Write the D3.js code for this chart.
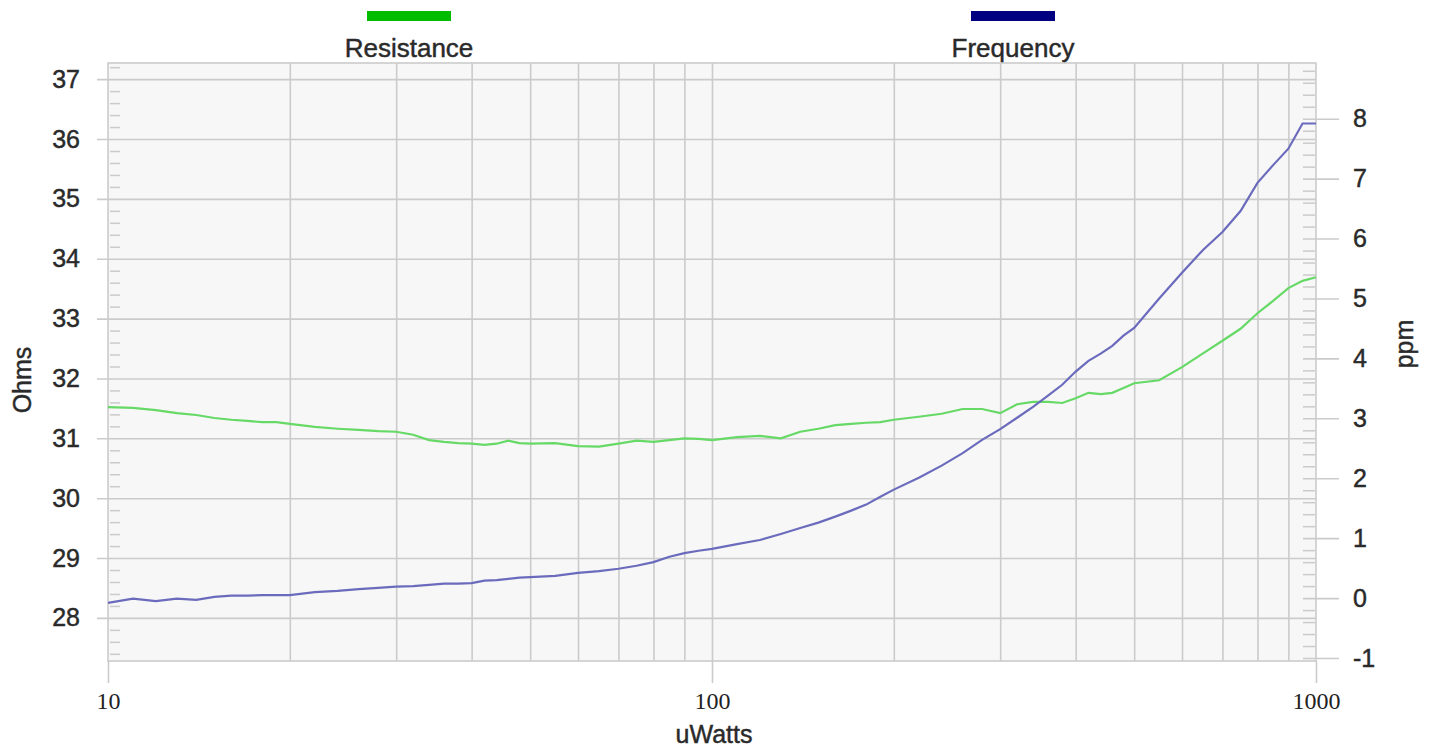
<!DOCTYPE html>
<html>
<head>
<meta charset="utf-8">
<script src="https://cdn.jsdelivr.net/npm/d3@7"></script>
<style>
    body { margin: 0; background: #fff; }
    svg { display: block; font-family: "Liberation Sans", Arial, sans-serif; }
    .lbl { fill: #2a2a2a; stroke: #2a2a2a; stroke-width: 0.45px; }
</style>
</head>
<body>
<div id="chart"></div>
<script>
// power steps (uWatts)
var powerUW = [10, 11, 12, 13, 14, 15, 16, 17, 18, 19, 20, 22, 24, 26, 28, 30, 32, 34, 36, 38,
    40, 42, 44, 46, 48, 50, 55, 60, 65, 70, 75, 80, 85, 90, 95, 100, 110, 120, 130, 140,
    150, 160, 170, 180, 190, 200, 220, 240, 260, 280, 300, 320, 340, 360, 380, 400, 420, 440, 460, 480,
    500, 550, 600, 650, 700, 750, 800, 850, 900, 950, 1000];

// left axis series
var resistanceOhms = [31.52, 31.51, 31.47, 31.42, 31.39, 31.34, 31.31, 31.29, 31.27, 31.27, 31.24, 31.19, 31.16, 31.14, 31.12, 31.11, 31.06, 30.97, 30.94, 30.92,
    30.91, 30.89, 30.91, 30.96, 30.92, 30.91, 30.92, 30.87, 30.86, 30.91, 30.96, 30.94, 30.97, 31.0, 30.99, 30.97, 31.02, 31.04, 31.0, 31.11,
    31.16, 31.22, 31.24, 31.26, 31.27, 31.31, 31.36, 31.41, 31.49, 31.49, 31.42, 31.57, 31.61, 31.61, 31.59, 31.67, 31.76, 31.74, 31.76, 31.84,
    31.92, 31.97, 32.19, 32.42, 32.63, 32.83, 33.09, 33.3, 33.51, 33.63, 33.69];

// right axis series
var frequencyPpm = [-0.08, -0.01, -0.05, -0.01, -0.03, 0.02, 0.04, 0.04, 0.05, 0.05, 0.05, 0.1, 0.12, 0.15, 0.17, 0.19, 0.2, 0.22, 0.24, 0.24,
    0.25, 0.29, 0.3, 0.32, 0.34, 0.35, 0.37, 0.42, 0.45, 0.49, 0.54, 0.6, 0.69, 0.75, 0.79, 0.82, 0.9, 0.97, 1.07, 1.17,
    1.26, 1.36, 1.46, 1.56, 1.69, 1.81, 2.01, 2.21, 2.42, 2.64, 2.82, 3.01, 3.19, 3.38, 3.56, 3.78, 3.96, 4.08, 4.21, 4.38,
    4.51, 5.0, 5.43, 5.81, 6.11, 6.46, 6.93, 7.23, 7.5, 7.92, 7.92];

var ohmTicks = [28, 29, 30, 31, 32, 33, 34, 35, 36, 37];
var ppmTicks = [-1, 0, 1, 2, 3, 4, 5, 6, 7, 8];
var powerTicks = [10, 100, 1000];
var powerGrid = [20, 30, 40, 50, 60, 70, 80, 90, 100, 200, 300, 400, 500, 600, 700, 800, 900];

var seriesNames = ["Resistance", "Frequency"];
var legendColors = ["#00bb00", "#000080"];
var lineColors = ["#66d966", "#6b6bbd"];

var margin = { top: 63, right: 119, bottom: 87, left: 108 },
    width = 1435 - margin.left - margin.right,
    height = 748 - margin.top - margin.bottom;

var svg = d3.select("#chart").append("svg")
    .attr("width", 1435)
    .attr("height", 748);

var g = svg.append("g")
    .attr("transform", "translate(" + margin.left + "," + margin.top + ")");

var x = d3.scaleLog().domain([10, 1000]).range([0, width]);
var yL = d3.scaleLinear().domain([27.28, 37.27]).range([height, 0]);
var yR = d3.scaleLinear().domain([-1.05, 8.93]).range([height, 0]);

// plot background
g.append("rect")
    .attr("width", width)
    .attr("height", height)
    .attr("fill", "#f7f7f7");

var gridColor = "#cbcbcb";

// horizontal grid from the left axis, with outside major ticks
var leftAxis = g.append("g")
    .call(d3.axisLeft(yL).tickValues(ohmTicks).tickSize(11).tickPadding(17));
leftAxis.select(".domain").remove();
leftAxis.selectAll("line").attr("stroke", gridColor).attr("stroke-width", 1.6)
    .attr("x1", -11).attr("x2", width);
leftAxis.selectAll("text")
    .attr("class", "lbl")
    .style("font-size", "25px");

// vertical grid
var xGrid = g.append("g")
    .call(d3.axisBottom(x).tickValues(powerGrid).tickSize(height).tickFormat(""));
xGrid.select(".domain").remove();
xGrid.selectAll("line").attr("stroke", gridColor).attr("stroke-width", 1.6);

// minor ticks left
var minorL = d3.range(27.4, 37.25, 0.2).filter(function(v) {
    return Math.abs(v - Math.round(v)) > 0.05;
});
var leftMinor = g.append("g")
    .attr("transform", "translate(12,0)")
    .call(d3.axisLeft(yL).tickValues(minorL).tickSize(10).tickFormat(""));
leftMinor.select(".domain").remove();
leftMinor.selectAll("line").attr("stroke", gridColor).attr("stroke-width", 1.5);

// minor ticks right
var minorR = d3.range(-1, 8.9, 0.2).filter(function(v) {
    return Math.abs(v - Math.round(v)) > 0.05;
});
var rightMinor = g.append("g")
    .attr("transform", "translate(" + (width - 13) + ",0)")
    .call(d3.axisRight(yR).tickValues(minorR).tickSize(12).tickFormat(""));
rightMinor.select(".domain").remove();
rightMinor.selectAll("line").attr("stroke", gridColor).attr("stroke-width", 1.5);

// right major ticks and labels
var rightAxis = g.append("g")
    .attr("transform", "translate(" + (width - 13) + ",0)")
    .call(d3.axisRight(yR).tickValues(ppmTicks).tickSize(36).tickPadding(14)
        .tickFormat(function(d) { return String(d); }));
rightAxis.select(".domain").remove();
rightAxis.selectAll("line").attr("stroke", gridColor).attr("stroke-width", 1.6);
rightAxis.selectAll("text")
    .attr("class", "lbl")
    .style("font-size", "25px");

// plot border
g.append("rect")
    .attr("width", width)
    .attr("height", height)
    .attr("fill", "none")
    .attr("stroke", gridColor)
    .attr("stroke-width", 1.6);

// x axis
var bottomAxis = g.append("g")
    .attr("transform", "translate(0," + height + ")")
    .call(d3.axisBottom(x).tickValues(powerTicks).tickSize(22).tickPadding(9)
        .tickFormat(function(d) { return String(d); }));
bottomAxis.select(".domain").remove();
bottomAxis.selectAll("line").attr("stroke", gridColor).attr("stroke-width", 1.6);
bottomAxis.selectAll("text")
    .attr("fill", "#222")
    .style("font-family", "'Liberation Serif', 'Times New Roman', serif")
    .style("font-size", "24px");

// lines
var resLine = d3.line()
    .x(function(d, i) { return x(powerUW[i]); })
    .y(function(d) { return yL(d); });
var freqLine = d3.line()
    .x(function(d, i) { return x(powerUW[i]); })
    .y(function(d) { return yR(d); });

g.append("path")
    .datum(resistanceOhms)
    .attr("fill", "none")
    .attr("stroke", lineColors[0])
    .attr("stroke-width", 2.2)
    .attr("d", resLine);

g.append("path")
    .datum(frequencyPpm)
    .attr("fill", "none")
    .attr("stroke", lineColors[1])
    .attr("stroke-width", 2.2)
    .attr("d", freqLine);

// axis titles
svg.append("text")
    .attr("class", "lbl")
    .attr("transform", "translate(31,380) rotate(-90)")
    .attr("text-anchor", "middle")
    .style("font-size", "25px")
    .text("Ohms");

svg.append("text")
    .attr("class", "lbl")
    .attr("transform", "translate(1413,344) rotate(-90)")
    .attr("text-anchor", "middle")
    .style("font-size", "25px")
    .text("ppm");

svg.append("text")
    .attr("class", "lbl")
    .attr("x", 714)
    .attr("y", 743)
    .attr("text-anchor", "middle")
    .style("font-size", "25px")
    .text("uWatts");

// legend
var legendX = [409, 1013];
var legend = svg.selectAll(".legend")
    .data(seriesNames)
    .enter().append("g")
    .attr("class", "legend")
    .attr("transform", function(d, i) { return "translate(" + legendX[i] + ",0)"; });

legend.append("rect")
    .attr("x", -42)
    .attr("y", 11)
    .attr("width", 84)
    .attr("height", 10)
    .attr("fill", function(d, i) { return legendColors[i]; });

legend.append("text")
    .attr("class", "lbl")
    .attr("y", 57)
    .attr("text-anchor", "middle")
    .style("font-size", "26px")
    .text(function(d) { return d; });
</script>
</body>
</html>
